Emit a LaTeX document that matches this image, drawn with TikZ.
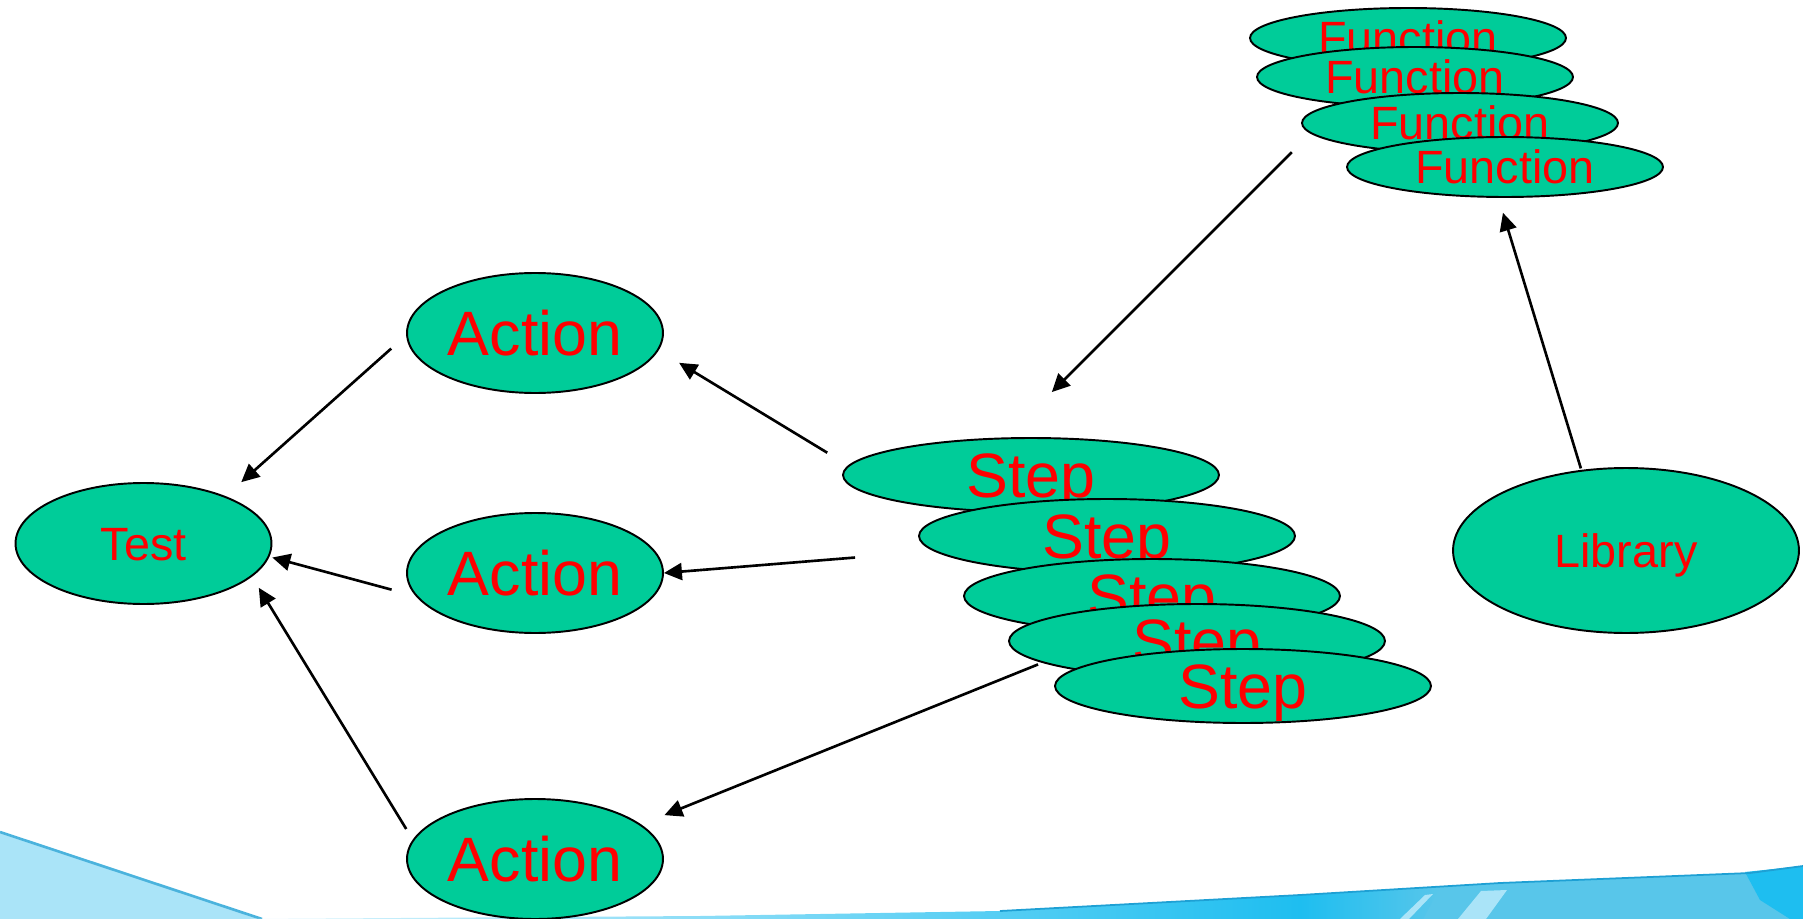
\documentclass[tikz,border=0pt]{standalone}
\usepackage{fontspec}
\setmainfont{Liberation Sans}
\usetikzlibrary{shapes.geometric,arrows.meta}
\definecolor{leaf}{RGB}{0,204,153}
\definecolor{sky}{RGB}{170,228,248}
\definecolor{sea}{RGB}{30,190,240}
\definecolor{mist}{RGB}{88,198,234}
\definecolor{seaedge}{RGB}{30,160,212}

\begin{document}
\begin{tikzpicture}[x=0.02cm,y=-0.02cm,
    blob/.style={ellipse,draw,line width=1.1pt,fill=leaf,text=red,inner sep=0pt,text depth=0pt},
    big/.style={blob,font=\fontsize{35.7}{36}\selectfont,text height=25.7pt},
    small/.style={blob,font=\fontsize{26.6}{27}\selectfont,text height=19.1pt},
    actnode/.style={big,minimum width=5.12cm,minimum height=2.4cm},
    stepnode/.style={big,minimum width=7.52cm,minimum height=1.48cm},
    funnode/.style={small,minimum width=6.32cm,minimum height=1.2cm},
    arr/.style={-{Triangle[length=0.36cm,width=0.34cm]},line width=1.5pt}]
  \useasboundingbox (0,0) rectangle (1803,919);
  % backdrop
  \begin{scope}
    \clip (0,0) rectangle (1803,919);
    \fill[sky] (0,832) -- (262,919) -- (0,919) -- cycle;
    \draw[seaedge!80,line width=1.5pt] (0,832) -- (262,919);
    \shade[left color=sky!40,right color=sea]
      (250,919) -- (700,916) -- (1000,911) -- (1300,895) -- (1300,925) -- (250,925) -- cycle;
    \fill[mist] (1300,895) -- (1500,883) -- (1750,873) -- (1803,866)
      -- (1803,925) -- (1300,925) -- cycle;
    \shade[left color=sea,right color=mist] (1300,895) -- (1440,887) -- (1420,925) -- (1300,925) -- cycle;
    \fill[sea] (1745,872) -- (1803,866) -- (1803,919) -- (1790,919) -- (1760,900) -- cycle;
    \draw[seaedge,line width=1pt] (1000,911) -- (1300,895) -- (1500,883) -- (1750,873) -- (1803,866);
    \fill[sky] (1400,919) -- (1425,895) -- (1433,894) -- (1409,919) -- cycle;
    \fill[sky] (1458,919) -- (1481,891) -- (1507,890) -- (1486,919) -- cycle;
  \end{scope}

  % test and actions
  \node[small,minimum width=5.12cm,minimum height=2.42cm] (test) at (143.5,543.5) {Test};
  \node[actnode] (act1) at (535,333) {Action};
  \node[actnode] (act2) at (535,573) {Action};
  \node[actnode] (act3) at (535,859) {Action};

  % steps
  \node[stepnode] (step1) at (1031,475) {Step};
  \node[stepnode] (step2) at (1107,536) {Step};
  \node[stepnode] (step3) at (1152,596) {Step};
  \node[stepnode] (step4) at (1197,641) {Step};
  \node[stepnode] (step5) at (1243,686) {Step};

  % functions and library
  \node[funnode] (fun1) at (1408,38) {Function};
  \node[funnode] (fun2) at (1415,77) {Function};
  \node[funnode] (fun3) at (1460,123) {Function};
  \node[funnode] (fun4) at (1505,167) {Function};
  \node[small,minimum width=6.92cm,minimum height=3.3cm] (lib) at (1626,550.5) {Library};

  \draw[arr,shorten <=0.4cm,shorten >=0.42cm] (act1.181) -- (test.30);
  \draw[arr,shorten <=0.5cm,shorten >=0.06cm] (act2.191) -- (test.354);
  \draw[arr,shorten <=0.25cm,shorten >=0.26cm] (act3.171) -- (test.343);
  \draw[arr,shorten <=0.49cm,shorten >=0.48cm] (step1.177) -- (act1.352);
  \draw[arr,shorten <=1.58cm] (step2.185) -- (act2.east);
  \draw[arr,shorten <=0.09cm,shorten >=0.5cm] (step4.188) -- (act3.18);
  \draw[arr,shorten <=0.53cm,shorten >=1.28cm] (fun3.184) -- (step1.123);
  \draw[arr,shorten <=0.03cm,shorten >=0.31cm] (lib.119) -- (fun4.258);
\end{tikzpicture}
\end{document}
